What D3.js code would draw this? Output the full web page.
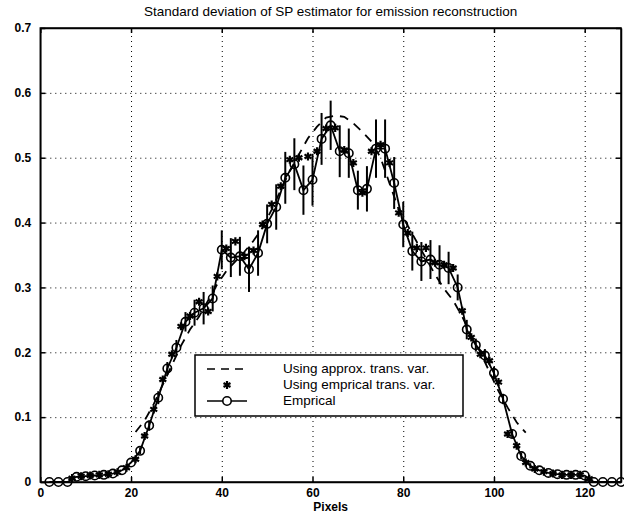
<!DOCTYPE html>
<html>
<head>
<meta charset="utf-8">
<script src="https://cdn.jsdelivr.net/npm/d3@7"></script>
<style>
  body { margin: 0; background: #fff; }
  text { font-family: "Liberation Sans", Arial, sans-serif; fill: #000; }
</style>
</head>
<body>
<script>
// pixel positions
let pixEven = d3.range(2, 129, 2);
let pixOdd = d3.range(1, 128, 2);
let pixApprox = d3.range(21, 108, 2);

// Emprical (circles, even pixels)
let emprical = [0,0,0,.008,.009,.01,.011,.013,.018,.03,
  .048,.087,.13,.175,.207,.247,.261,.268,.283,.358,
  .346,.348,.328,.353,.398,.424,.469,.49,.45,.466,
  .529,.55,.51,.507,.45,.452,.514,.514,.461,.397,
  .356,.34,.343,.335,.33,.30,.235,.211,.195,.168,
  .128,.074,.04,.025,.018,.014,.012,.011,.011,.01,
  0,0,0,0];
// half length of the error bars on the emprical curve
let empErr = [0,0,0,0,0,0,0,0,0,0,
  .005,.008,.01,.01,.012,.015,.02,.025,.02,.03,
  .03,.03,.035,.035,.03,.035,.04,.04,.038,.04,
  .04,.038,.04,.038,.03,.035,.045,.045,.04,.035,
  .03,.03,.03,.03,.025,.02,.015,.01,.01,.01,
  .008,.006,.005,.004,0,0,0,0,0,0,
  0,0,0,0];
// Using emprical trans. var. (stars, odd pixels)
let empTrans = [0,0,0,.006,.009,.01,.011,.012,.015,.022,
  .035,.071,.112,.158,.197,.24,.256,.278,.263,.317,
  .36,.371,.348,.357,.397,.428,.456,.497,.50,.502,
  .51,.545,.546,.512,.492,.446,.51,.52,.492,.415,
  .384,.361,.361,.338,.335,.33,.264,.223,.197,.187,
  .154,.074,.056,.03,.02,.016,.013,.011,.011,.011,
  .005,0,0,0];
// Using approx. trans. var. (dashed)
let approxTrans = [.077,.095,.12,.15,.18,.21,.235,.255,.28,.305,
  .325,.34,.355,.372,.392,.42,.45,.48,.505,.53,
  .548,.562,.565,.563,.553,.54,.525,.50,.46,.42,
  .395,.37,.345,.32,.298,.28,.255,.225,.2,.17,
  .14,.115,.092,.076];

let xTicks = [0,20,40,60,80,100,120];
let yTicks = [0,0.1,0.2,0.3,0.4,0.5,0.6,0.7];
let legendLabels = ["Using approx. trans. var.", "Using emprical trans. var.", "Emprical"];

let W = 624, H = 514;
let x = d3.scaleLinear().domain([0,128]).range([40.3,621]);
let y = d3.scaleLinear().domain([0,0.7]).range([482,28]);
let x0 = x.range()[0], x1 = x.range()[1];
let y0 = y.range()[0], y1 = y.range()[1];

let svg = d3.select("body").append("svg").attr("width",W).attr("height",H);

// grid
svg.append("g")
      .attr("class","grid")
      .attr("transform","translate(0,"+y0+")")
      .call(d3.axisBottom(x).tickValues(xTicks.slice(1)).tickSize(-(y0-y1)).tickFormat(""))
      .call(g=>g.select(".domain").remove());
svg.append("g")
      .attr("class","grid")
      .attr("transform","translate("+x0+",0)")
      .call(d3.axisLeft(y).tickValues(yTicks.slice(1,-1)).tickSize(-(x1-x0)).tickFormat(""))
      .call(g=>g.select(".domain").remove());
svg.selectAll(".grid line")
      .attr("stroke","#000")
      .attr("stroke-width","1")
      .attr("stroke-dasharray","1,4");

// approx dashed curve
let line = d3.line().x(d=>x(d[0])).y(d=>y(d[1]));
svg.append("path")
      .datum(pixApprox.map((p,i)=>[p,approxTrans[i]]))
      .attr("d",line)
      .attr("fill","none")
      .attr("stroke","#000")
      .attr("stroke-width","1.8")
      .attr("stroke-dasharray","9,7");

// error bars
svg.selectAll("line.err")
      .data(pixEven.map((p,i)=>[p,emprical[i],empErr[i]]).filter(d=>d[2]>0))
      .enter().append("line")
                .attr("class","err")
                .attr("x1",d=>x(d[0]))
                .attr("x2",d=>x(d[0]))
                .attr("y1",d=>y(d[1]-d[2]))
                .attr("y2",d=>y(d[1]+d[2]))
                .attr("stroke","#000")
                .attr("stroke-width","2");

// emprical line + circles
svg.append("path")
      .datum(pixEven.map((p,i)=>[p,emprical[i]]))
      .attr("d",line)
      .attr("fill","none")
      .attr("stroke","#000")
      .attr("stroke-width","1.8");

svg.selectAll("circle.emp")
      .data(pixEven.map((p,i)=>[p,emprical[i]]))
      .enter().append("circle")
                .attr("class","emp")
                .attr("cx",d=>x(d[0]))
                .attr("cy",d=>y(d[1]))
                .attr("r",4.2)
                .attr("fill","none")
                .attr("stroke","#000")
                .attr("stroke-width","1.6");

// stars
let star = d3.symbol().type(d3.symbolAsterisk).size(45);
svg.selectAll("path.star")
      .data(pixOdd.map((p,i)=>[p,empTrans[i]]).filter(d=>d[1]>0))
      .enter().append("path")
                .attr("class","star")
                .attr("d",star)
                .attr("transform",d=>"translate("+x(d[0])+","+y(d[1])+")")
                .attr("fill","none")
                .attr("stroke","#000")
                .attr("stroke-width","2.2");

// axes frame and ticks
svg.append("rect")
      .attr("x",x0).attr("y",y1)
      .attr("width",x1-x0).attr("height",y0-y1)
      .attr("fill","none")
      .attr("stroke","#000")
      .attr("stroke-width","1.5");

svg.append("g")
      .attr("transform","translate(0,"+y0+")")
      .call(d3.axisBottom(x).tickValues(xTicks).tickSizeInner(-5).tickSizeOuter(0).tickPadding(6));
svg.append("g")
      .attr("transform","translate("+x0+",0)")
      .call(d3.axisLeft(y).tickValues(yTicks).tickSizeInner(-5).tickSizeOuter(0).tickPadding(9).tickFormat(d=>d===0?"0":d3.format(".1f")(d)));
svg.append("g")
      .attr("transform","translate(0,"+y1+")")
      .call(d3.axisTop(x).tickValues(xTicks).tickSizeInner(-5).tickSizeOuter(0).tickFormat(""));
svg.append("g")
      .attr("transform","translate("+x1+",0)")
      .call(d3.axisRight(y).tickValues(yTicks).tickSizeInner(-5).tickSizeOuter(0).tickFormat(""));
svg.selectAll(".domain").attr("stroke","#000").attr("stroke-width","1.5");
svg.selectAll(".tick line").filter(function(){return !this.parentNode.parentNode.classList.contains("grid");})
      .attr("stroke","#000").attr("stroke-width","1.5");
svg.selectAll(".tick text")
      .attr("font-size","12px")
      .attr("font-weight","bold")
      .attr("font-family","Liberation Sans, Arial, sans-serif");

// title and label
svg.append("text")
      .attr("x",(x0+x1)/2)
      .attr("y",12)
      .attr("font-size","13.5px")
      .attr("text-anchor","middle")
      .attr("dominant-baseline","middle")
      .text("Standard deviation of SP estimator for emission reconstruction");
svg.append("text")
      .attr("x",(x0+x1)/2)
      .attr("y",507.5)
      .attr("font-size","12px")
      .attr("font-weight","bold")
      .attr("text-anchor","middle")
      .attr("dominant-baseline","middle")
      .text("Pixels");

// legend
let lg = svg.append("g").attr("transform","translate(195,355)");
lg.append("rect")
      .attr("width",268).attr("height",61)
      .attr("fill","#fff")
      .attr("stroke","#000")
      .attr("stroke-width","1.5");
let rowY = [14,30,46];
lg.append("line")
      .attr("x1",12).attr("x2",52).attr("y1",rowY[0]).attr("y2",rowY[0])
      .attr("stroke","#000").attr("stroke-width","1.5").attr("stroke-dasharray","8,6");
lg.append("path")
      .attr("d",star)
      .attr("transform","translate(32,"+rowY[1]+")")
      .attr("fill","none").attr("stroke","#000").attr("stroke-width","2.2");
lg.append("line")
      .attr("x1",12).attr("x2",52).attr("y1",rowY[2]).attr("y2",rowY[2])
      .attr("stroke","#000").attr("stroke-width","1.5");
lg.append("circle")
      .attr("cx",32).attr("cy",rowY[2]).attr("r",4.2)
      .attr("fill","#fff").attr("stroke","#000").attr("stroke-width","1.6");
lg.selectAll("text")
      .data(legendLabels)
      .enter().append("text")
                .attr("x",88)
                .attr("y",(d,i)=>rowY[i])
                .attr("font-size","13.5px")
                .attr("dominant-baseline","middle")
                .text(d=>d);
</script>
</body>
</html>
